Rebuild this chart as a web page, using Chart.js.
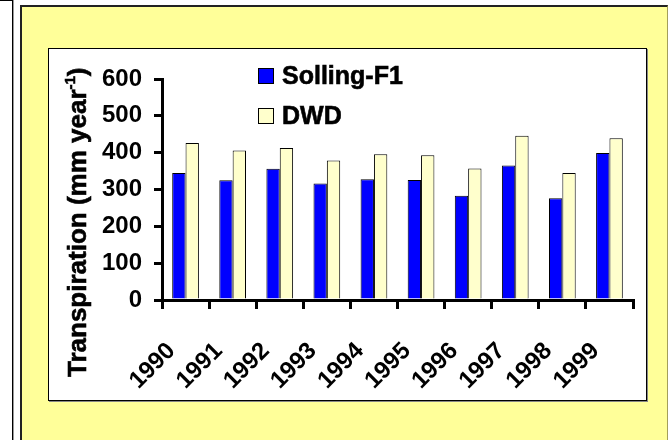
<!DOCTYPE html>
<html>
<head>
<meta charset="utf-8">
<script src="https://cdn.jsdelivr.net/npm/chart.js@4"></script>
<style>
    html, body { margin: 0; padding: 0; background: #fff; overflow: hidden; }
    body { width: 670px; height: 440px; position: relative; }
    .side { position: absolute; left: -1px; top: 0; width: 12px; height: 460px; border: 1px solid #000; box-shadow: 1px 0 0 #999; }
    .panel { position: absolute; left: 20px; top: 5px; width: 645px; height: 460px; background: #ffff99;
             border-left: 2px solid #222; border-top: 2px solid #222; border-right: 1px solid #a39f5a; }
    .plot { position: absolute; left: 48px; top: 48px; width: 597px; height: 351px; background: #fff;
            border: 1px solid #000; box-shadow: 1px 1px 0 #888; }
    canvas { position: absolute; left: 0; top: 0; }
</style>
</head>
<body>
<div class="side"></div>
<div class="panel"></div>
<div class="plot"></div>
<canvas id="chart" width="670" height="440"></canvas>
<script>
// Data
const years = ['1990', '1991', '1992', '1993', '1994', '1995', '1996', '1997', '1998', '1999'];
const solling = [345, 325, 356, 316, 328, 326, 283, 365, 276, 399];
const dwd = [426, 406, 413, 379, 396, 393, 357, 446, 345, 439];
const yTicks = [0, 100, 200, 300, 400, 500, 600];

const FONT = "'Liberation Sans', Arial, sans-serif";

// draw text a little heavier, like the original rendering
function heavyText(ctx, text, x, y) {
    ctx.fillText(text, x, y);
    ctx.lineWidth = 0.6;
    ctx.strokeStyle = ctx.fillStyle;
    ctx.strokeText(text, x, y);
}

// Legend drawn inside the plot, top left of centre
const legendInPlot = {
    id: 'legendInPlot',
    afterDraw(chart) {
        const ctx = chart.ctx;
        ctx.save();
        ctx.font = 'bold 25px ' + FONT;
        ctx.textBaseline = 'middle';
        chart.data.datasets.forEach(function (ds, i) {
            const y = 68 + i * 40;
            ctx.fillStyle = ds.backgroundColor;
            ctx.fillRect(258, y, 16, 16);
            ctx.strokeStyle = '#000';
            ctx.lineWidth = 1;
            ctx.strokeRect(258.5, y + 0.5, 15, 15);
            ctx.fillStyle = '#000';
            heavyText(ctx, ds.label, 282, y + 9);
        });
        ctx.restore();
    }
};

// Y axis title with a real superscript
const yTitle = {
    id: 'yTitle',
    afterDraw(chart) {
        const ctx = chart.ctx;
        ctx.save();
        ctx.translate(86, 377);
        ctx.rotate(-Math.PI / 2);
        ctx.fillStyle = '#000';
        ctx.textBaseline = 'alphabetic';
        ctx.font = 'bold 26px ' + FONT;
        const main = 'Transpiration (mm year';
        heavyText(ctx, main, 0, 0);
        let x = ctx.measureText(main).width;
        ctx.font = 'bold 15px ' + FONT;
        heavyText(ctx, '-1', x, -11);
        x += ctx.measureText('-1').width;
        ctx.font = 'bold 26px ' + FONT;
        heavyText(ctx, ')', x, 0);
        ctx.restore();
    }
};

new Chart(document.getElementById('chart'), {
    type: 'bar',
    data: {
        labels: years,
        datasets: [{
            label: 'Solling-F1',
            data: solling,
            backgroundColor: '#0000ff',
            borderColor: '#000',
            borderWidth: 1,
            barPercentage: 1.0,
            categoryPercentage: 0.567
        }, {
            label: 'DWD',
            data: dwd,
            backgroundColor: '#ffffcc',
            borderColor: '#000',
            borderWidth: 1,
            barPercentage: 1.0,
            categoryPercentage: 0.567
        }]
    },
    options: {
        responsive: false,
        animation: false,
        layout: { padding: { left: 0, top: 79, right: 37, bottom: 0 } },
        plugins: {
            legend: { display: false },
            title: { display: false },
            tooltip: { enabled: false }
        },
        scales: {
            x: {
                offset: true,
                afterFit: function (scale) { scale.height = 140; },
                grid: { display: true, drawOnChartArea: false, drawTicks: true, tickLength: 9, lineWidth: 3, color: '#000' },
                border: { display: true, width: 3, color: '#000' },
                ticks: {
                    color: '#000',
                    font: { family: FONT, size: 24, weight: 'bold' },
                    minRotation: 45,
                    maxRotation: 45,
                    autoSkip: false,
                    labelOffset: -14,
                    padding: 28
                }
            },
            y: {
                min: 0,
                max: 600,
                afterFit: function (scale) { scale.width = 162; },
                afterBuildTicks: function (scale) { scale.ticks = yTicks.map(v => ({ value: v })); },
                grid: { display: true, drawOnChartArea: false, drawTicks: true, tickLength: 8, lineWidth: 3, color: '#000' },
                border: { display: true, width: 3, color: '#000' },
                ticks: {
                    color: '#000',
                    font: { family: FONT, size: 24, weight: 'bold' },
                    padding: 12
                }
            }
        }
    },
    plugins: [legendInPlot, yTitle]
});
</script>
</body>
</html>
